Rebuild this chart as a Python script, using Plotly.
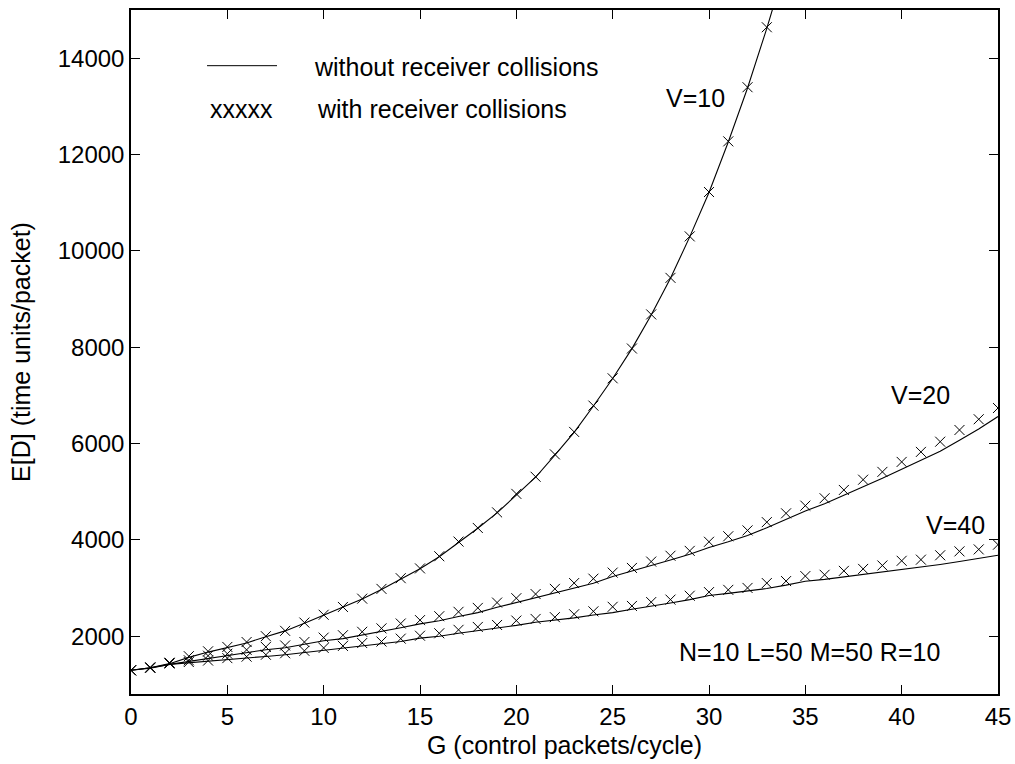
import plotly.graph_objects as go

G = list(range(0, 46))
G10 = list(range(0, 34))
G10_line = list(range(0, 35))

# V=10, with receiver collisions (markers)
v10_x = [1292, 1352, 1443, 1585, 1686, 1777, 1879, 2000, 2111, 2283,
         2445, 2607, 2779, 2982, 3204, 3407, 3660, 3964, 4247, 4571,
         4955, 5310, 5775, 6241, 6787, 7354, 7972, 8680, 9439, 10300,
         11221, 12273, 13397, 14642]
# V=10, without receiver collisions (line)
v10_l = [1292, 1345, 1430, 1560, 1670, 1760, 1860, 1990, 2110, 2270,
         2440, 2600, 2770, 2970, 3190, 3400, 3650, 3950, 4240, 4560,
         4940, 5300, 5760, 6230, 6780, 7350, 7970, 8670, 9430, 10290,
         11210, 12260, 13380, 14620, 15950]

v20_x = [1292, 1340, 1450, 1500, 1595, 1636, 1717, 1777, 1808, 1879,
         1970, 2020, 2091, 2162, 2263, 2334, 2415, 2506, 2587, 2698,
         2789, 2875, 2982, 3103, 3194, 3320, 3417, 3549, 3670, 3771,
         3960, 4075, 4196, 4368, 4551, 4710, 4864, 5036, 5249, 5411,
         5618, 5826, 6038, 6281, 6504, 6737]
v20_l = [1292, 1335, 1415, 1475, 1545, 1600, 1665, 1720, 1760, 1830,
         1905, 1950, 2020, 2090, 2175, 2255, 2320, 2410, 2490, 2600,
         2700, 2790, 2890, 3000, 3100, 3240, 3350, 3460, 3580, 3700,
         3840, 3960, 4090, 4250, 4420, 4600, 4750, 4920, 5100, 5280,
         5470, 5650, 5840, 6070, 6300, 6560]

v40_x = [1292, 1352, 1433, 1464, 1494, 1545, 1575, 1615, 1646, 1696,
         1757, 1798, 1858, 1889, 1949, 2010, 2061, 2132, 2192, 2233,
         2324, 2358, 2395, 2455, 2516, 2610, 2628, 2708, 2759, 2840,
         2915, 2962, 3002, 3103, 3144, 3248, 3275, 3356, 3397, 3468,
         3565, 3589, 3680, 3761, 3802, 3900]
v40_l = [1292, 1345, 1415, 1445, 1475, 1515, 1545, 1580, 1615, 1660,
         1715, 1750, 1805, 1840, 1890, 1960, 2000, 2060, 2110, 2160,
         2225, 2290, 2330, 2380, 2440, 2490, 2560, 2620, 2690, 2760,
         2845, 2890, 2940, 2990, 3060, 3140, 3180, 3230, 3280, 3330,
         3378, 3440, 3490, 3550, 3610, 3680]

x_ticks = [0, 5, 10, 15, 20, 25, 30, 35, 40, 45]
y_ticks = [2000, 4000, 6000, 8000, 10000, 12000, 14000]

labels = [("V=10", 29.3, 13170), ("V=20", 41.0, 7000), ("V=40", 42.8, 4310),
          ("N=10 L=50 M=50 R=10", 35.2, 1680)]

FONT = "Liberation Sans, Arial, Helvetica, sans-serif"

fig = go.Figure()
line_style = dict(color="black", width=1.1)
mk_style = dict(symbol="x-thin-open", size=10, color="black", line=dict(color="black", width=1))

for gx, ly in [(G10_line, v10_l), (G, v20_l), (G, v40_l)]:
    fig.add_trace(go.Scatter(x=gx, y=ly, mode="lines", line=line_style,
                             showlegend=False, hoverinfo="skip"))
for gx, my in [(G10, v10_x), (G, v20_x), (G, v40_x)]:
    fig.add_trace(go.Scatter(x=gx, y=my, mode="markers", marker=mk_style,
                             showlegend=False, hoverinfo="skip"))

for txt, lx, ly in labels:
    fig.add_annotation(x=lx, y=ly, text=txt, showarrow=False, xanchor="center",
                       yanchor="middle", font=dict(family=FONT, size=25, color="black"))

# legend (drawn manually as in the original figure)
fig.add_shape(type="line", xref="paper", yref="paper", x0=0.0877, x1=0.1684,
              y0=0.9186, y1=0.9186, line=dict(color="black", width=1))
fig.add_annotation(xref="paper", yref="paper", x=0.2084, y=0.9167, text="without receiver collisions",
                   showarrow=False, xanchor="left", yanchor="middle",
                   font=dict(family=FONT, size=25, color="black"))
fig.add_annotation(xref="paper", yref="paper", x=0.089, y=0.855, text="xxxxx",
                   showarrow=False, xanchor="left", yanchor="middle",
                   font=dict(family=FONT, size=25, color="black"))
fig.add_annotation(xref="paper", yref="paper", x=0.2122, y=0.855, text="with receiver collisions",
                   showarrow=False, xanchor="left", yanchor="middle",
                   font=dict(family=FONT, size=25, color="black"))

axis_common = dict(showline=True, linecolor="black", linewidth=1.5, mirror="allticks",
                   ticks="inside", ticklen=9, tickwidth=1, tickcolor="black",
                   showgrid=False, zeroline=False,
                   tickfont=dict(family=FONT, size=24, color="black"))

fig.update_xaxes(range=[0, 45], tickvals=x_ticks, ticktext=[str(v) for v in x_ticks],
                 title=dict(text="G (control packets/cycle)", standoff=8,
                            font=dict(family=FONT, size=25, color="black")),
                 **axis_common)
fig.update_yaxes(range=[800, 15000], tickvals=y_ticks, ticktext=[str(v) for v in y_ticks],
                 title=dict(text="E[D] (time units/packet)", standoff=20,
                            font=dict(family=FONT, size=25, color="black")),
                 **axis_common)

fig.update_layout(width=1015, height=764, margin=dict(l=131, r=17, t=10, b=70, autoexpand=False),
                  plot_bgcolor="white", paper_bgcolor="white",
                  font=dict(family=FONT, size=24, color="black"))

fig.write_html("out.html")
